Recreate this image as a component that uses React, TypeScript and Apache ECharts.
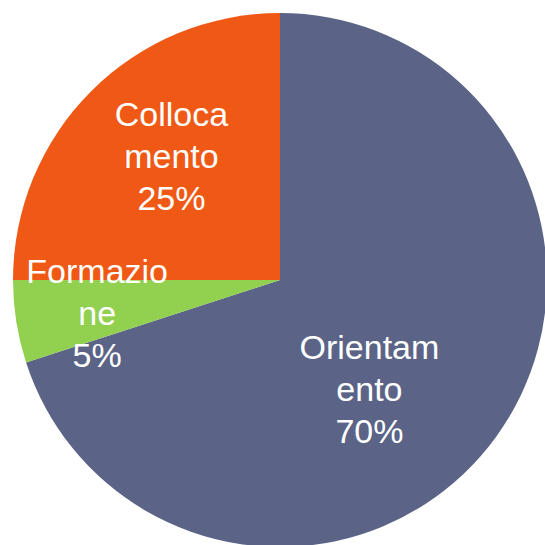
import React, { useEffect, useRef } from "react";
import * as echarts from "echarts";

const categories = ["Orientamento", "Formazione", "Collocamento"];
const labelTexts = ["Orientam\nento", "Formazio\nne", "Colloca\nmento"];
const values = [70, 5, 25];
const colors = ["#5b6486", "#92d050", "#ef5815"];
const labelShift = [
  [-21, 29],
  [-48, 12],
  [-12, -27],
];

export default function App() {
  const ref = useRef<HTMLDivElement>(null);
  useEffect(() => {
    document.body.style.margin = "0";
    const chart = echarts.init(ref.current!, undefined, { renderer: "svg" });
    chart.setOption({
      animation: false,
      backgroundColor: "#ffffff",
      series: [
        {
          type: "pie",
          center: [280, 280],
          radius: 267,
          startAngle: 90,
          clockwise: true,
          data: categories.map((c, i) => ({
            name: c,
            value: values[i],
            itemStyle: { color: colors[i] },
          })),
          label: {
            show: true,
            position: "inside",
            formatter: (p: any) => `${labelTexts[p.dataIndex]}\n${p.percent}%`,
            color: "#ffffff",
            fontFamily: "'Liberation Sans Narrow', 'Arial Narrow', 'Liberation Sans', sans-serif",
            fontSize: 34,
            lineHeight: 42,
            align: "center",
          },
          labelLayout: (p: any) => ({
            dx: labelShift[p.dataIndex][0],
            dy: labelShift[p.dataIndex][1],
          }),
          emphasis: { disabled: true },
        },
      ],
    });
    return () => chart.dispose();
  }, []);
  return <div ref={ref} style={{ width: 545, height: 545 }} />;
}
